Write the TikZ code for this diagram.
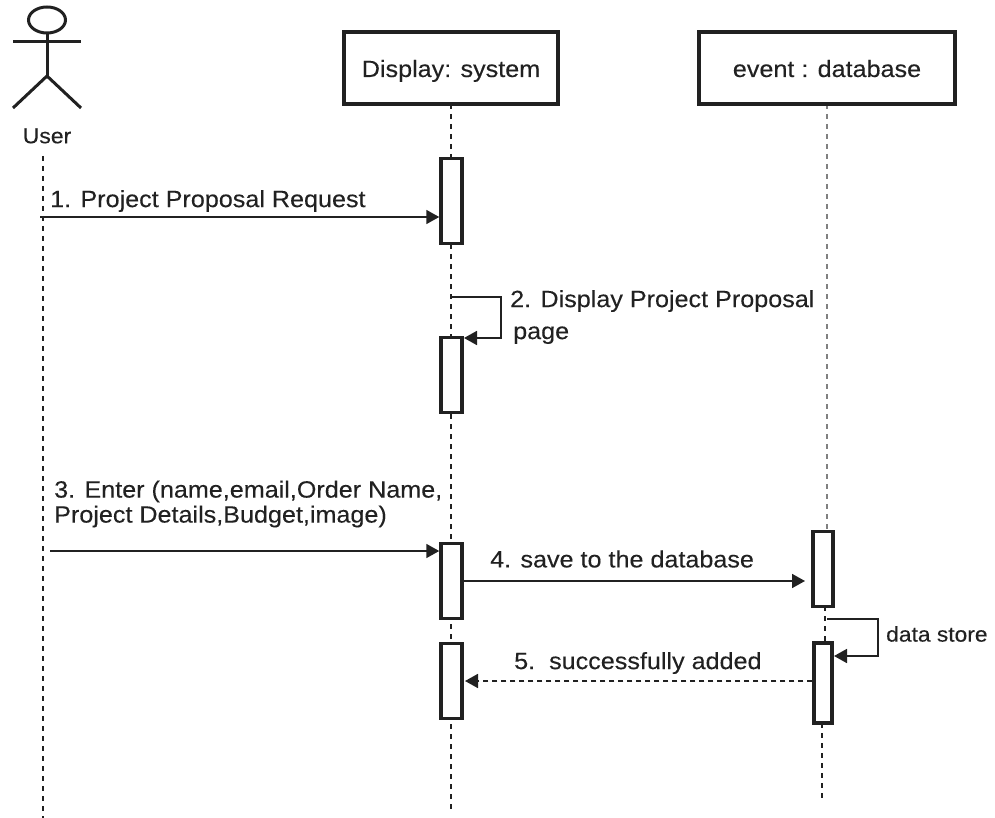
\documentclass[tikz,border=0pt]{standalone}
\usepackage{fontspec}
\setmainfont[FakeStretch=1.07,FakeBold=0.2]{Liberation Sans}
\usetikzlibrary{arrows.meta,shapes.geometric}
\definecolor{ink}{gray}{0.13}
\tikzset{
 obj/.style={draw=ink,line width=3.5pt,fill=white,minimum width=#1,minimum height=72pt,inner sep=0pt,text height=18pt,text depth=0pt,font=\fontsize{23.5}{26}\selectfont,text=ink},
 act/.style={draw=ink,line width=3.5pt,fill=white,inner sep=0pt,minimum width=#1},
 life/.style={draw=ink,line width=1.4pt,dash pattern=on 5pt off 5pt},
 msg/.style={draw=ink,line width=1.8pt,-{Triangle[length=13pt,width=14pt]}},
 lbl/.style={anchor=west,inner sep=0pt,align=left,text=ink,font=\fontsize{23.5}{25}\selectfont},
 small/.style={anchor=west,inner sep=0pt,text=ink,font=\fontsize{21.3}{22}\selectfont},
 stick/.style={draw=ink,line width=3pt}
}
\begin{document}
\begin{tikzpicture}[x=1pt,y=-1pt]
\useasboundingbox (0,0) rectangle (995,818);
% lifelines first
\coordinate (u0) at (43,156); \coordinate (u1) at (43,818);
\coordinate (s0) at (451,104); \coordinate (s1) at (451,810);
\coordinate (d0) at (827,104); \coordinate (d1) at (827,531);
\coordinate (d2) at (825,606); \coordinate (d3) at (825,643);
\coordinate (d4) at (822,723); \coordinate (d5) at (822,802);
\draw[life] (u0) -- (u1);
\draw[life] (s0) -- (s1);
\draw[life,draw=gray] (d0) -- (d1);
\draw[life] (d2) -- (d3);
\draw[life] (d4) -- (d5);
% objects
\node[obj=214pt] (sys) at (451,68) {Display: system};
\node[obj=256pt] (db) at (827,68) {event : database};
% actor
\node[draw=ink,line width=3pt,ellipse,minimum width=37pt,minimum height=26pt,inner sep=0pt] (head) at (47,20) {};
\coordinate (hip) at (47,76);
\coordinate (al) at (13,42); \coordinate (ar) at (81,42);
\coordinate (fl) at (13,108); \coordinate (fr) at (81,108);
\draw[stick] (head.south) -- (hip);
\draw[stick] (al) -- (ar);
\draw[stick] (fl) -- (hip) -- (fr);
\node[inner sep=0pt,text=ink,font=\fontsize{21.5}{24}\selectfont] (user) at (47,136) {User};
% activations
\node[act=21pt,minimum height=85pt] (a1) at (451.5,201) {};
\node[act=21pt,minimum height=75pt] (a2) at (451.5,375) {};
\node[act=21pt,minimum height=75pt] (a3) at (451.5,581) {};
\node[act=21pt,minimum height=75pt] (a4) at (451.5,681) {};
\node[act=20pt,minimum height=75pt] (b1) at (823,569) {};
\node[act=18pt,minimum height=80pt] (b2) at (823,683) {};
% messages
\coordinate (m1) at (40,217);
\draw[msg] (m1) -- (m1 -| a1.west);
\coordinate (m2) at (451,297); \coordinate (m2b) at (501,297); \coordinate (m2c) at (501,338);
\draw[msg] (m2) -- (m2b) -- (m2c) -- (464,338);
\coordinate (m3) at (50,551);
\draw[msg] (m3) -- (m3 -| a3.west);
\coordinate (m4) at (a3.east |- 0,581); \coordinate (m4e) at (805,581);
\draw[msg] (m4) -- (m4e);
\coordinate (l0) at (827,619); \coordinate (l1) at (878,619); \coordinate (l2) at (878,656);
\draw[msg] (l0) -- (l1) -- (l2) -- (834,656);
\coordinate (m5) at (b2.west |- 0,681); \coordinate (m5e) at (465,681);
\draw[msg,dashed,dash pattern=on 5pt off 4pt] (m5) -- (m5e);
% labels
\node[lbl] (t1) at (50,201) {1. Project Proposal Request};
\node[lbl] (t2) at (510,317) {2. Display Project Proposal\\[7pt] \hspace*{3pt}page};
\node[lbl] (t3) at (54,504) {3. Enter (name,email,Order Name,\\Project Details,Budget,image)};
\node[lbl] (t4) at (490,559) {4. save to the database};
\node[lbl] (t5) at (514,663) {5.\ \ successfully added};
\node[small] (t6) at (886,634) {data store};
\end{tikzpicture}
\end{document}
